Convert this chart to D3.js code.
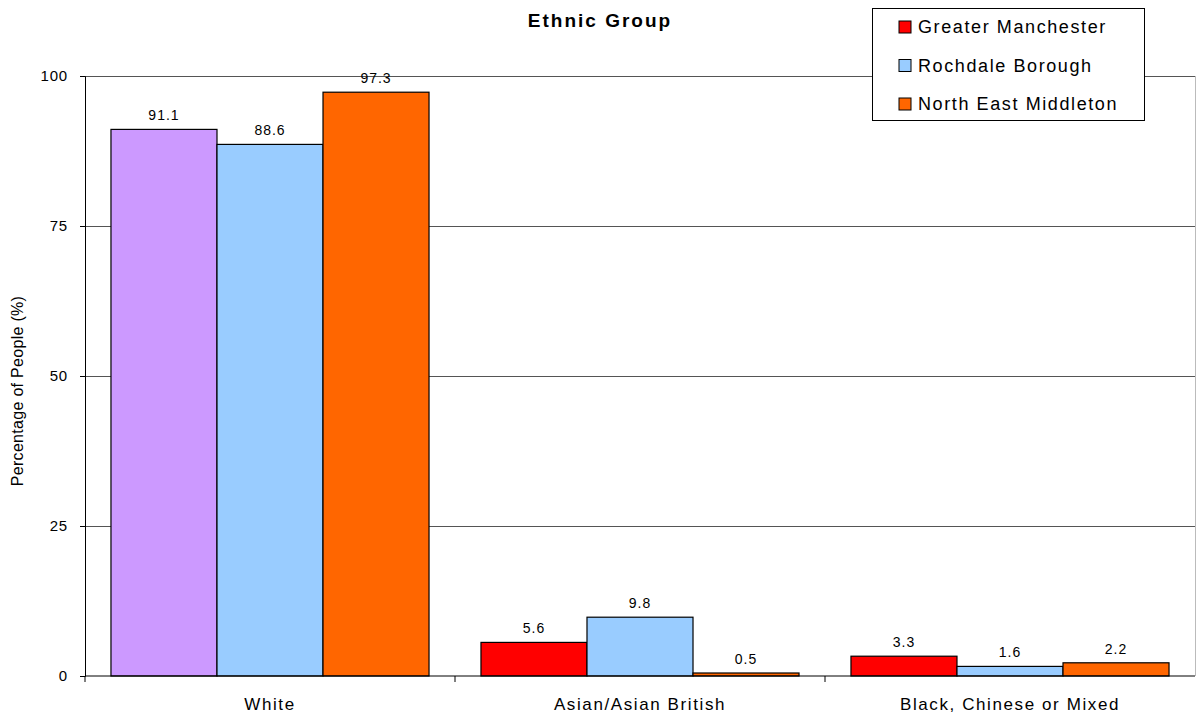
<!DOCTYPE html>
<html><head><meta charset="utf-8">
<script src="https://cdn.jsdelivr.net/npm/d3@7"></script>
<style>body{margin:0;background:#fff}svg{display:block;font-family:"Liberation Sans",Arial,sans-serif}</style>
</head><body><svg id="c" width="1196" height="713"></svg>
<script>
const categories = ["White", "Asian/Asian British", "Black, Chinese or Mixed"];
const seriesNames = ["Greater Manchester", "Rochdale Borough", "North East Middleton"];
const greaterManchester = [91.1, 5.6, 3.3];
const rochdaleBorough = [88.6, 9.8, 1.6];
const northEastMiddleton = [97.3, 0.5, 2.2];
const yTicks = [0, 25, 50, 75, 100];
const seriesColors = ["#FF0000", "#99CCFF", "#FF6600"];
const overrideColor = {series: 0, category: 0, color: "#CC99FF"};

(function () {
const series = [greaterManchester, rochdaleBorough, northEastMiddleton];
const svg = d3.select("#c");
const pLeft = 85, pRight = 1195, pTop = 76, pBottom = 676;
const x0 = d3.scaleBand().domain(categories).range([pLeft, pRight]).paddingInner(0).paddingOuter(0);
const x1 = d3.scaleBand().domain(d3.range(3)).range([0, x0.bandwidth()]).paddingInner(0).paddingOuter(0.245);
const y = d3.scaleLinear().domain([0, 100]).range([pBottom, pTop]);

// gridlines
svg.append("g").selectAll("line").data(yTicks.filter(d => d > 0)).join("line")
  .attr("x1", pLeft).attr("x2", pRight).attr("y1", d => Math.round(y(d)) + 0.5).attr("y2", d => Math.round(y(d)) + 0.5)
  .attr("stroke", "#555").attr("stroke-width", 1);
svg.append("line").attr("x1", pRight + 0.5).attr("x2", pRight + 0.5).attr("y1", pTop).attr("y2", pBottom)
  .attr("stroke", "#bbb");

// bars
const g = svg.append("g");
categories.forEach((c, ci) => {
  series.forEach((s, si) => {
    const v = s[ci];
    const col = (si === overrideColor.series && ci === overrideColor.category) ? overrideColor.color : seriesColors[si];
    const bx = x0(c) + x1(si);
    g.append("rect").attr("x", bx).attr("y", y(v)).attr("width", x1.bandwidth()).attr("height", y(0) - y(v))
      .attr("fill", col).attr("stroke", "#000").attr("stroke-width", 1.2);
    g.append("text").attr("x", bx + x1.bandwidth() / 2).attr("y", y(v) - 9)
      .attr("text-anchor", "middle").attr("font-size", 14).attr("letter-spacing", 1).attr("fill", "#000").text(v.toFixed(1));
  });
});

// y axis
const ya = svg.append("g").attr("transform", `translate(${pLeft},0)`)
  .call(d3.axisLeft(y).tickValues(yTicks).tickSize(5).tickPadding(12));
ya.select(".domain").attr("stroke", "#000");
ya.selectAll("text").attr("font-size", 15).attr("letter-spacing", 0.8).attr("font-family", "Liberation Sans, Arial, sans-serif").attr("fill", "#000");
ya.selectAll("line").attr("stroke", "#000");

// x axis
const xa = svg.append("g").attr("transform", `translate(0,${pBottom})`);
xa.append("line").attr("x1", pLeft).attr("x2", pRight).attr("stroke", "#000").attr("stroke-width", 1);
const bounds = categories.map(c => x0(c));
xa.selectAll("line.t").data(bounds).join("line").attr("class", "t")
  .attr("x1", d => d).attr("x2", d => d).attr("y1", 0).attr("y2", 6).attr("stroke", "#000");
xa.selectAll("text").data(categories).join("text")
  .attr("x", d => x0(d) + x0.bandwidth() / 2).attr("y", 34).attr("text-anchor", "middle")
  .attr("font-size", 17).attr("letter-spacing", 1.6).attr("fill", "#000").text(d => d);

// y title
svg.append("text").attr("transform", `translate(23,${(pTop + pBottom) / 2 + 15}) rotate(-90)`)
  .attr("text-anchor", "middle").attr("font-size", 16).attr("letter-spacing", 0.3).attr("fill", "#000").text("Percentage of People (%)");

// title
svg.append("text").attr("x", 600).attr("y", 27).attr("text-anchor", "middle")
  .attr("font-size", 19).attr("font-weight", "bold").attr("letter-spacing", 2).attr("fill", "#000").text("Ethnic Group");

// legend
const lg = svg.append("g");
lg.append("rect").attr("x", 872.5).attr("y", 8.5).attr("width", 272).attr("height", 112)
  .attr("fill", "#fff").attr("stroke", "#000").attr("stroke-width", 1);
seriesNames.forEach((n, i) => {
  const cy = 27 + i * 38.5;
  lg.append("rect").attr("x", 899).attr("y", cy - 6).attr("width", 12).attr("height", 12)
    .attr("fill", seriesColors[i]).attr("stroke", "#000").attr("stroke-width", 1);
  lg.append("text").attr("x", 918).attr("y", cy + 6).attr("font-size", 18).attr("letter-spacing", 1.6)
    .attr("fill", "#000").text(n);
});
})();
</script></body></html>
